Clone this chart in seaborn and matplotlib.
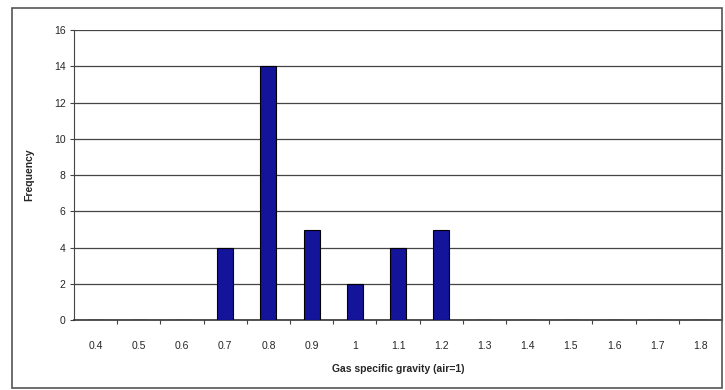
import matplotlib
matplotlib.use("Agg")
import matplotlib.pyplot as plt
import seaborn as sns
import pandas as pd
import numpy as np
from matplotlib.patches import Rectangle

categories = ["0.4", "0.5", "0.6", "0.7", "0.8", "0.9", "1", "1.1", "1.2",
              "1.3", "1.4", "1.5", "1.6", "1.7", "1.8"]
frequency = [0, 0, 0, 4, 14, 5, 2, 4, 5, 0, 0, 0, 0, 0, 0]
y_ticks = [0, 2, 4, 6, 8, 10, 12, 14, 16]

sns.set_style("white")
plt.rcParams['font.family'] = ['Liberation Sans', 'DejaVu Sans']

df = pd.DataFrame({"gravity": categories, "freq": frequency})

fig = plt.figure(figsize=(7.25, 3.9), dpi=100)
ax = fig.add_axes([0.102, 0.179, 0.894, 0.744])

# chart outer border
fig.patches.append(Rectangle((12/725, 2/390), 710/725, 380/390, transform=fig.transFigure,
                             fill=False, edgecolor="#555555", linewidth=1.2, zorder=0))

sns.barplot(data=df, x="gravity", y="freq", order=categories, color="#14149a",
            width=0.37, edgecolor="black", linewidth=0.8, saturation=1, ax=ax, zorder=3)

ax.set_ylim(0, 16)
ax.set_xlim(-0.5, len(categories) - 0.5)
ax.set_yticks(y_ticks)
ax.yaxis.grid(True, color="#444444", linewidth=0.9)
ax.set_axisbelow(True)

ax.spines["top"].set_visible(False)
ax.spines["left"].set_color("#444444")
ax.spines["bottom"].set_color("#333333")
ax.spines["bottom"].set_linewidth(1.2)
ax.spines["right"].set_color("#555555")

ax.tick_params(axis="y", length=3, width=0.8, color="#444444", labelsize=7.5, pad=3, left=True)
ax.tick_params(axis="x", which="major", length=0, labelsize=7.5, pad=15)
ax.set_xticks(np.arange(0.5, len(categories) - 0.5, 1), minor=True)
ax.tick_params(axis="x", which="minor", length=3, width=0.8, color="#444444", bottom=True)

ax.set_xlabel("Gas specific gravity (air=1)", fontsize=7.5, fontweight="bold", labelpad=9)
ax.set_ylabel("Frequency", fontsize=7.5, fontweight="bold", labelpad=14)

fig.savefig("out.png", dpi=100)
